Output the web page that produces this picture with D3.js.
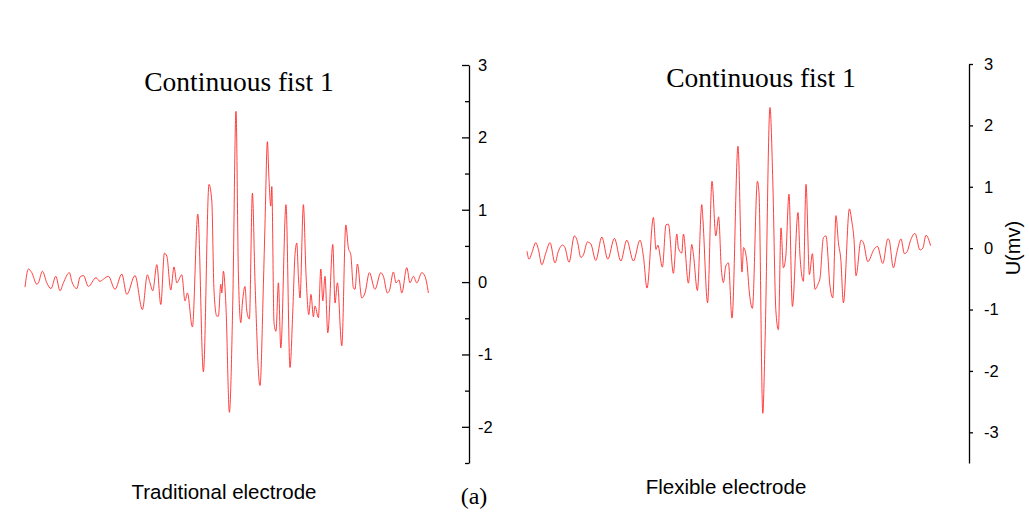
<!DOCTYPE html>
<html>
<head>
<meta charset="utf-8">
<script src="https://cdn.jsdelivr.net/npm/d3@7/dist/d3.min.js"></script>
<style>
  html, body { margin: 0; padding: 0; background: #fff; }
  svg { display: block; }
</style>
</head>
<body>
<svg id="chart" width="1029" height="518"></svg>
<script>
// ---- data (time in ms, voltage in mV) ----
const tradTime = [0,17,34,59,67,87,109,130,154,175,192,222,234,259,275,292,317,355,375,392,417,450,484,509,550,587,612,625,639,659,679,697,709,729,745,759,784,800,812,837,864,892,920,934,945,959,967,979,984,992,1005,1022,1039,1055,1067,1079,1087,1100,1109,1122,1137,1150,1175,1192,1200,1212,1220,1229,1234,1245,1255,1267,1279,1305,1325,1339,1350,1359,1367,1375,1392,1405,1419,1430,1442,1450,1467,1479,1489,1500,1514,1539,1550,1562,1584,1604,1617,1629,1642,1650,1662,1684,1700,1722,1750,1779,1792,1812,1822,1842,1855,1870,1884,1909,1925,1942,1959,1984,2000,2017];
const tradVolt = [-0.07,0.18,0.13,-0.03,-0.01,0.15,-0.01,-0.09,0.08,-0.12,-0.01,0.13,0.01,-0.09,0.07,0.09,-0.06,0.06,0.01,0.04,0.08,-0.10,0.11,-0.17,0.09,-0.38,0.10,-0.01,-0.12,0.24,-0.31,0.40,0.36,-0.11,0.21,-0.01,0.10,-0.26,-0.15,-0.62,0.94,-1.24,1.35,1.12,-0.12,-0.47,-0.47,-0.03,-0.15,0.15,-0.35,-1.80,-0.26,2.36,0.11,-0.56,-0.29,-0.06,-0.40,-0.51,1.23,0.01,-1.43,-0.03,0.80,1.94,1.42,1.05,1.32,-0.56,-0.68,-0.01,-0.91,1.07,-1.18,-0.40,0.38,0.54,0.08,-0.22,1.07,0.11,-0.45,-0.17,-0.48,-0.33,-0.49,0.18,-0.26,0.08,-0.70,0.52,-0.29,-0.01,-0.88,0.79,0.47,0.38,-0.08,-0.10,0.25,-0.22,-0.15,0.13,-0.10,0.13,0.08,-0.15,-0.12,0.14,-0.01,0.03,-0.15,0.20,-0.01,0.08,-0.01,0.13,0.08,-0.15];

const flexTime = [0,10,24,44,57,74,94,115,140,157,177,190,210,237,252,269,282,302,319,344,374,404,437,469,499,532,565,582,600,632,645,654,677,695,707,732,749,757,774,782,807,824,832,852,874,879,903,925,944,958,972,982,994,1007,1025,1055,1075,1083,1099,1112,1127,1152,1160,1179,1190,1215,1229,1244,1257,1270,1282,1294,1310,1327,1355,1365,1382,1395,1412,1427,1440,1457,1465,1482,1495,1515,1529,1545,1557,1569,1582,1612,1624,1635,1645,1670,1682,1704,1735,1752,1779,1804,1810,1832,1849,1870,1887,1902,1915,1940,1965,1979,1995,2018];
const flexVolt = [-0.05,-0.18,-0.08,0.09,-0.02,-0.27,-0.08,0.09,-0.24,-0.05,0.05,0.01,-0.23,0.20,0.11,-0.15,-0.11,0.10,0.07,-0.20,0.18,-0.18,0.16,-0.21,0.13,-0.21,0.13,-0.13,-0.65,0.50,-0.02,0.05,-0.31,0.38,0.39,-0.41,0.23,0.00,-0.08,0.23,-0.57,0.06,-0.10,-0.69,0.71,0.50,-0.89,1.09,0.20,0.51,-0.35,-0.56,-0.29,-0.24,-1.14,1.66,-0.39,0.01,-0.21,-0.73,-0.98,1.09,0.90,-2.69,-1.55,2.29,1.09,-1.00,-1.33,0.33,-0.32,-0.13,0.88,-0.95,0.58,-0.13,-0.54,1.04,-0.43,-0.09,-0.67,-0.57,-0.49,0.17,0.20,-0.62,-0.81,0.53,0.09,-0.18,-0.89,0.64,0.44,0.14,-0.45,0.13,0.09,-0.22,-0.02,0.03,-0.25,0.15,0.14,-0.32,-0.07,0.15,-0.09,-0.05,0.10,0.24,-0.03,0.00,0.21,0.04];

const leftMajorTicks = [-2,-1,0,1,2,3];
const leftMinorTicks = [-2.5,-1.5,-0.5,0.5,1.5,2.5];
const rightTicks = [-3,-2,-1,0,1,2,3];
const titles = ["Continuous fist 1","Continuous fist 1"];
const subLabels = ["Traditional electrode","Flexible electrode"];
const panelLabel = "(a)";
const yAxisLabel = "U(mv)";

// ---- drawing ----
const svg = d3.select("#chart");
const lineColor = "#ff2a2a";

const xL = d3.scaleLinear().domain([0, 2020]).range([25, 429]);
const yL = d3.scaleLinear().domain([-2.5, 3]).range([463, 65]);
const xR = d3.scaleLinear().domain([0, 2020]).range([527, 931]);
const yR = d3.scaleLinear().domain([-3.5, 3]).range([463, 64]);

function drawLine(times, volts, x, y) {
  const data = times.map((t, i) => [t, volts[i]]);
  svg.append("path")
    .datum(data)
    .attr("fill", "none")
    .attr("stroke", lineColor)
    .attr("stroke-width", 0.9)
    .attr("stroke-linejoin", "round")
    .attr("d", d3.line().x(d => x(d[0])).y(d => y(d[1])).curve(d3.curveMonotoneX));
}
drawLine(tradTime, tradVolt, xL, yL);
drawLine(flexTime, flexVolt, xR, yR);

const sans = "Arial, 'Liberation Sans', sans-serif";
const serif = "'Times New Roman', 'Liberation Serif', serif";

function styleAxis(g) {
  g.selectAll("path, line").attr("stroke", "#000").attr("stroke-width", 1.3);
  g.selectAll("text").attr("fill", "#000")
    .style("font-family", sans)
    .style("font-size", "16.5px");
}

// left axis: ticks to the left, labels to the right
const axL = 469;
const gLmaj = svg.append("g").attr("transform", `translate(${axL},0)`)
  .call(d3.axisLeft(yL).tickValues(leftMajorTicks).tickSize(7).tickSizeOuter(0).tickFormat(""));
styleAxis(gLmaj);
const gLmin = svg.append("g").attr("transform", `translate(${axL},0)`)
  .call(d3.axisLeft(yL).tickValues(leftMinorTicks).tickSize(4).tickSizeOuter(0).tickFormat(""));
styleAxis(gLmin);
gLmin.select(".domain").remove();
const gLlab = svg.append("g").attr("transform", `translate(${axL},0)`)
  .call(d3.axisRight(yL).tickValues(leftMajorTicks).tickSize(0).tickPadding(9).tickFormat(d => String(d)));
styleAxis(gLlab);
gLlab.select(".domain").remove();

// right axis
const axR = 969;
const gR = svg.append("g").attr("transform", `translate(${axR},0)`)
  .call(d3.axisRight(yR).tickValues(rightTicks).tickSize(4).tickSizeOuter(0).tickPadding(11).tickFormat(d => String(d)));
styleAxis(gR);

// right axis title
svg.append("text")
  .attr("transform", `translate(1020,${yR(0)}) rotate(-90)`)
  .attr("text-anchor", "middle")
  .style("font-family", sans)
  .style("font-size", "20px")
  .attr("fill", "#000")
  .text(yAxisLabel);

// titles
svg.append("text").attr("x", 239).attr("y", 91).attr("text-anchor", "middle")
  .style("font-family", serif).style("font-size", "27.5px").attr("fill", "#000").text(titles[0]);
svg.append("text").attr("x", 761).attr("y", 87).attr("text-anchor", "middle")
  .style("font-family", serif).style("font-size", "27.5px").attr("fill", "#000").text(titles[1]);

// bottom labels
svg.append("text").attr("x", 224).attr("y", 499).attr("text-anchor", "middle")
  .style("font-family", sans).style("font-size", "20.5px").attr("fill", "#000").text(subLabels[0]);
svg.append("text").attr("x", 726).attr("y", 494).attr("text-anchor", "middle")
  .style("font-family", sans).style("font-size", "20.5px").attr("fill", "#000").text(subLabels[1]);
svg.append("text").attr("x", 474).attr("y", 504).attr("text-anchor", "middle")
  .style("font-family", serif).style("font-size", "24px").attr("fill", "#000").text(panelLabel);
</script>
</body>
</html>
